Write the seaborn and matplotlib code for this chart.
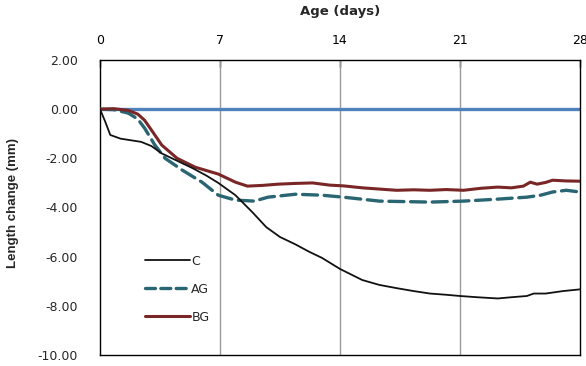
import matplotlib
matplotlib.use("Agg")
import matplotlib.pyplot as plt
import seaborn as sns
import pandas as pd
from matplotlib.lines import Line2D

# ---- data ----
days_C = [0, 0.3, 0.6, 1.2, 2.4, 3.0, 3.6, 4.5, 5.4, 6.2, 6.9, 7.9, 8.9, 9.7, 10.5,
          11.4, 12.2, 12.95, 14.0, 15.3, 16.3, 17.3, 18.3, 19.25, 20.2, 21.0, 22.0,
          23.2, 24.0, 24.9, 25.3, 26.0, 27.0, 28.0]
C = [0, -0.5, -1.05, -1.2, -1.33, -1.5, -1.8, -2.1, -2.4, -2.7, -3.0, -3.5, -4.2,
     -4.8, -5.2, -5.5, -5.8, -6.05, -6.5, -6.95, -7.15, -7.28, -7.4, -7.5, -7.55,
     -7.6, -7.65, -7.7, -7.65, -7.6, -7.5, -7.5, -7.4, -7.33]

days_AG = [0, 0.8, 1.65, 2.2, 2.6, 3.2, 3.8, 4.8, 5.95, 6.9, 7.9, 9.0, 9.8, 11.4,
           12.95, 14.2, 16.3, 19.25, 21.2, 23.2, 24.9, 25.7, 26.4, 27.2, 28.0]
AG = [0, -0.02, -0.16, -0.4, -0.77, -1.46, -2.0, -2.48, -2.97, -3.5, -3.7, -3.74,
      -3.58, -3.46, -3.5, -3.58, -3.74, -3.78, -3.74, -3.66, -3.58, -3.5, -3.37,
      -3.3, -3.37]

days_BG = [0, 0.8, 1.65, 2.2, 2.6, 3.1, 3.6, 4.5, 5.55, 6.9, 7.9, 8.6, 9.5, 10.4,
           11.4, 12.4, 13.4, 14.2, 15.3, 16.3, 17.3, 18.3, 19.25, 20.2, 21.2, 22.2,
           23.2, 24.0, 24.7, 25.1, 25.5, 26.0, 26.4, 27.2, 28.0]
BG = [0, 0.02, -0.05, -0.2, -0.45, -0.95, -1.46, -2.0, -2.36, -2.64, -2.97, -3.13,
      -3.1, -3.05, -3.02, -3.0, -3.09, -3.12, -3.2, -3.25, -3.3, -3.28, -3.3, -3.27,
      -3.3, -3.22, -3.17, -3.2, -3.13, -2.97, -3.05, -2.98, -2.89, -2.92, -2.93]

x_ticks = [0, 7, 14, 21, 28]
y_ticks = [2, 0, -2, -4, -6, -8, -10]
labels = ["C", "AG", "BG"]

# ---- style ----
sns.set_style("white")
plt.rcParams["font.family"] = ["DejaVu Sans"]
plt.rcParams["axes.unicode_minus"] = False

fig = plt.figure(figsize=(5.86, 3.66), dpi=100)
ax = fig.add_axes([100 / 586, 1 - 355 / 366, 480 / 586, 295 / 366])

c_col, ag_col, bg_col = "#111111", "#2a6572", "#7a2626"

for xv in x_ticks[1:-1]:
    ax.axvline(xv, color="#9a9a9a", lw=1.0, zorder=1)
ax.axhline(0, color="#4f81bd", lw=2.4, zorder=2)

df_c = pd.DataFrame({"day": days_C, "value": C})
df_ag = pd.DataFrame({"day": days_AG, "value": AG})
df_bg = pd.DataFrame({"day": days_BG, "value": BG})

sns.lineplot(data=df_c, x="day", y="value", ax=ax, color=c_col, lw=1.3, zorder=4,
             sort=False, estimator=None)
sns.lineplot(data=df_ag, x="day", y="value", ax=ax, color=ag_col, lw=2.4, zorder=3,
             sort=False, estimator=None, dashes=False)
ax.lines[-1].set_dashes((4.5, 2.0))
ax.lines[-1].set_dash_capstyle("round")
sns.lineplot(data=df_bg, x="day", y="value", ax=ax, color=bg_col, lw=2.2, zorder=3,
             sort=False, estimator=None)

ax.set_xlim(0, 28)
ax.set_ylim(-10, 2)
ax.set_xticks(x_ticks)
ax.set_yticks(y_ticks)
ax.set_yticklabels([f"{v:.2f}" for v in y_ticks])
ax.xaxis.tick_top()
ax.tick_params(axis="x", direction="in", length=5, width=1, pad=9.5, labelsize=9,
               colors="black")
ax.tick_params(axis="y", direction="in", length=4, width=1, pad=16, labelsize=9)
ax.set_xlabel("")
ax.set_ylabel("")
for s in ax.spines.values():
    s.set_visible(True)
    s.set_color("black")
    s.set_linewidth(1.0)

fig.text(340 / 586, 1 - 12 / 366, "Age (days)", ha="center", va="center",
         fontsize=9.5, fontweight="bold")
fig.text(13 / 586, 1 - 203 / 366, "Length change (mm)", ha="center", va="center",
         rotation=90, fontsize=9.5, fontweight="bold",
         family=["Liberation Sans", "DejaVu Sans"])

handles = [
    Line2D([], [], color=c_col, lw=1.3),
    Line2D([], [], color=ag_col, lw=2.4, dashes=(3.0, 1.6), dash_capstyle="round"),
    Line2D([], [], color=bg_col, lw=2.2),
]
ax.legend(handles, labels, loc="upper left", bbox_to_anchor=(0.094, 0.34),
          frameon=False, fontsize=9, handlelength=3.6, handletextpad=0.1,
          labelspacing=1.2, borderpad=0, borderaxespad=0)

fig.savefig("out.png", dpi=100)
